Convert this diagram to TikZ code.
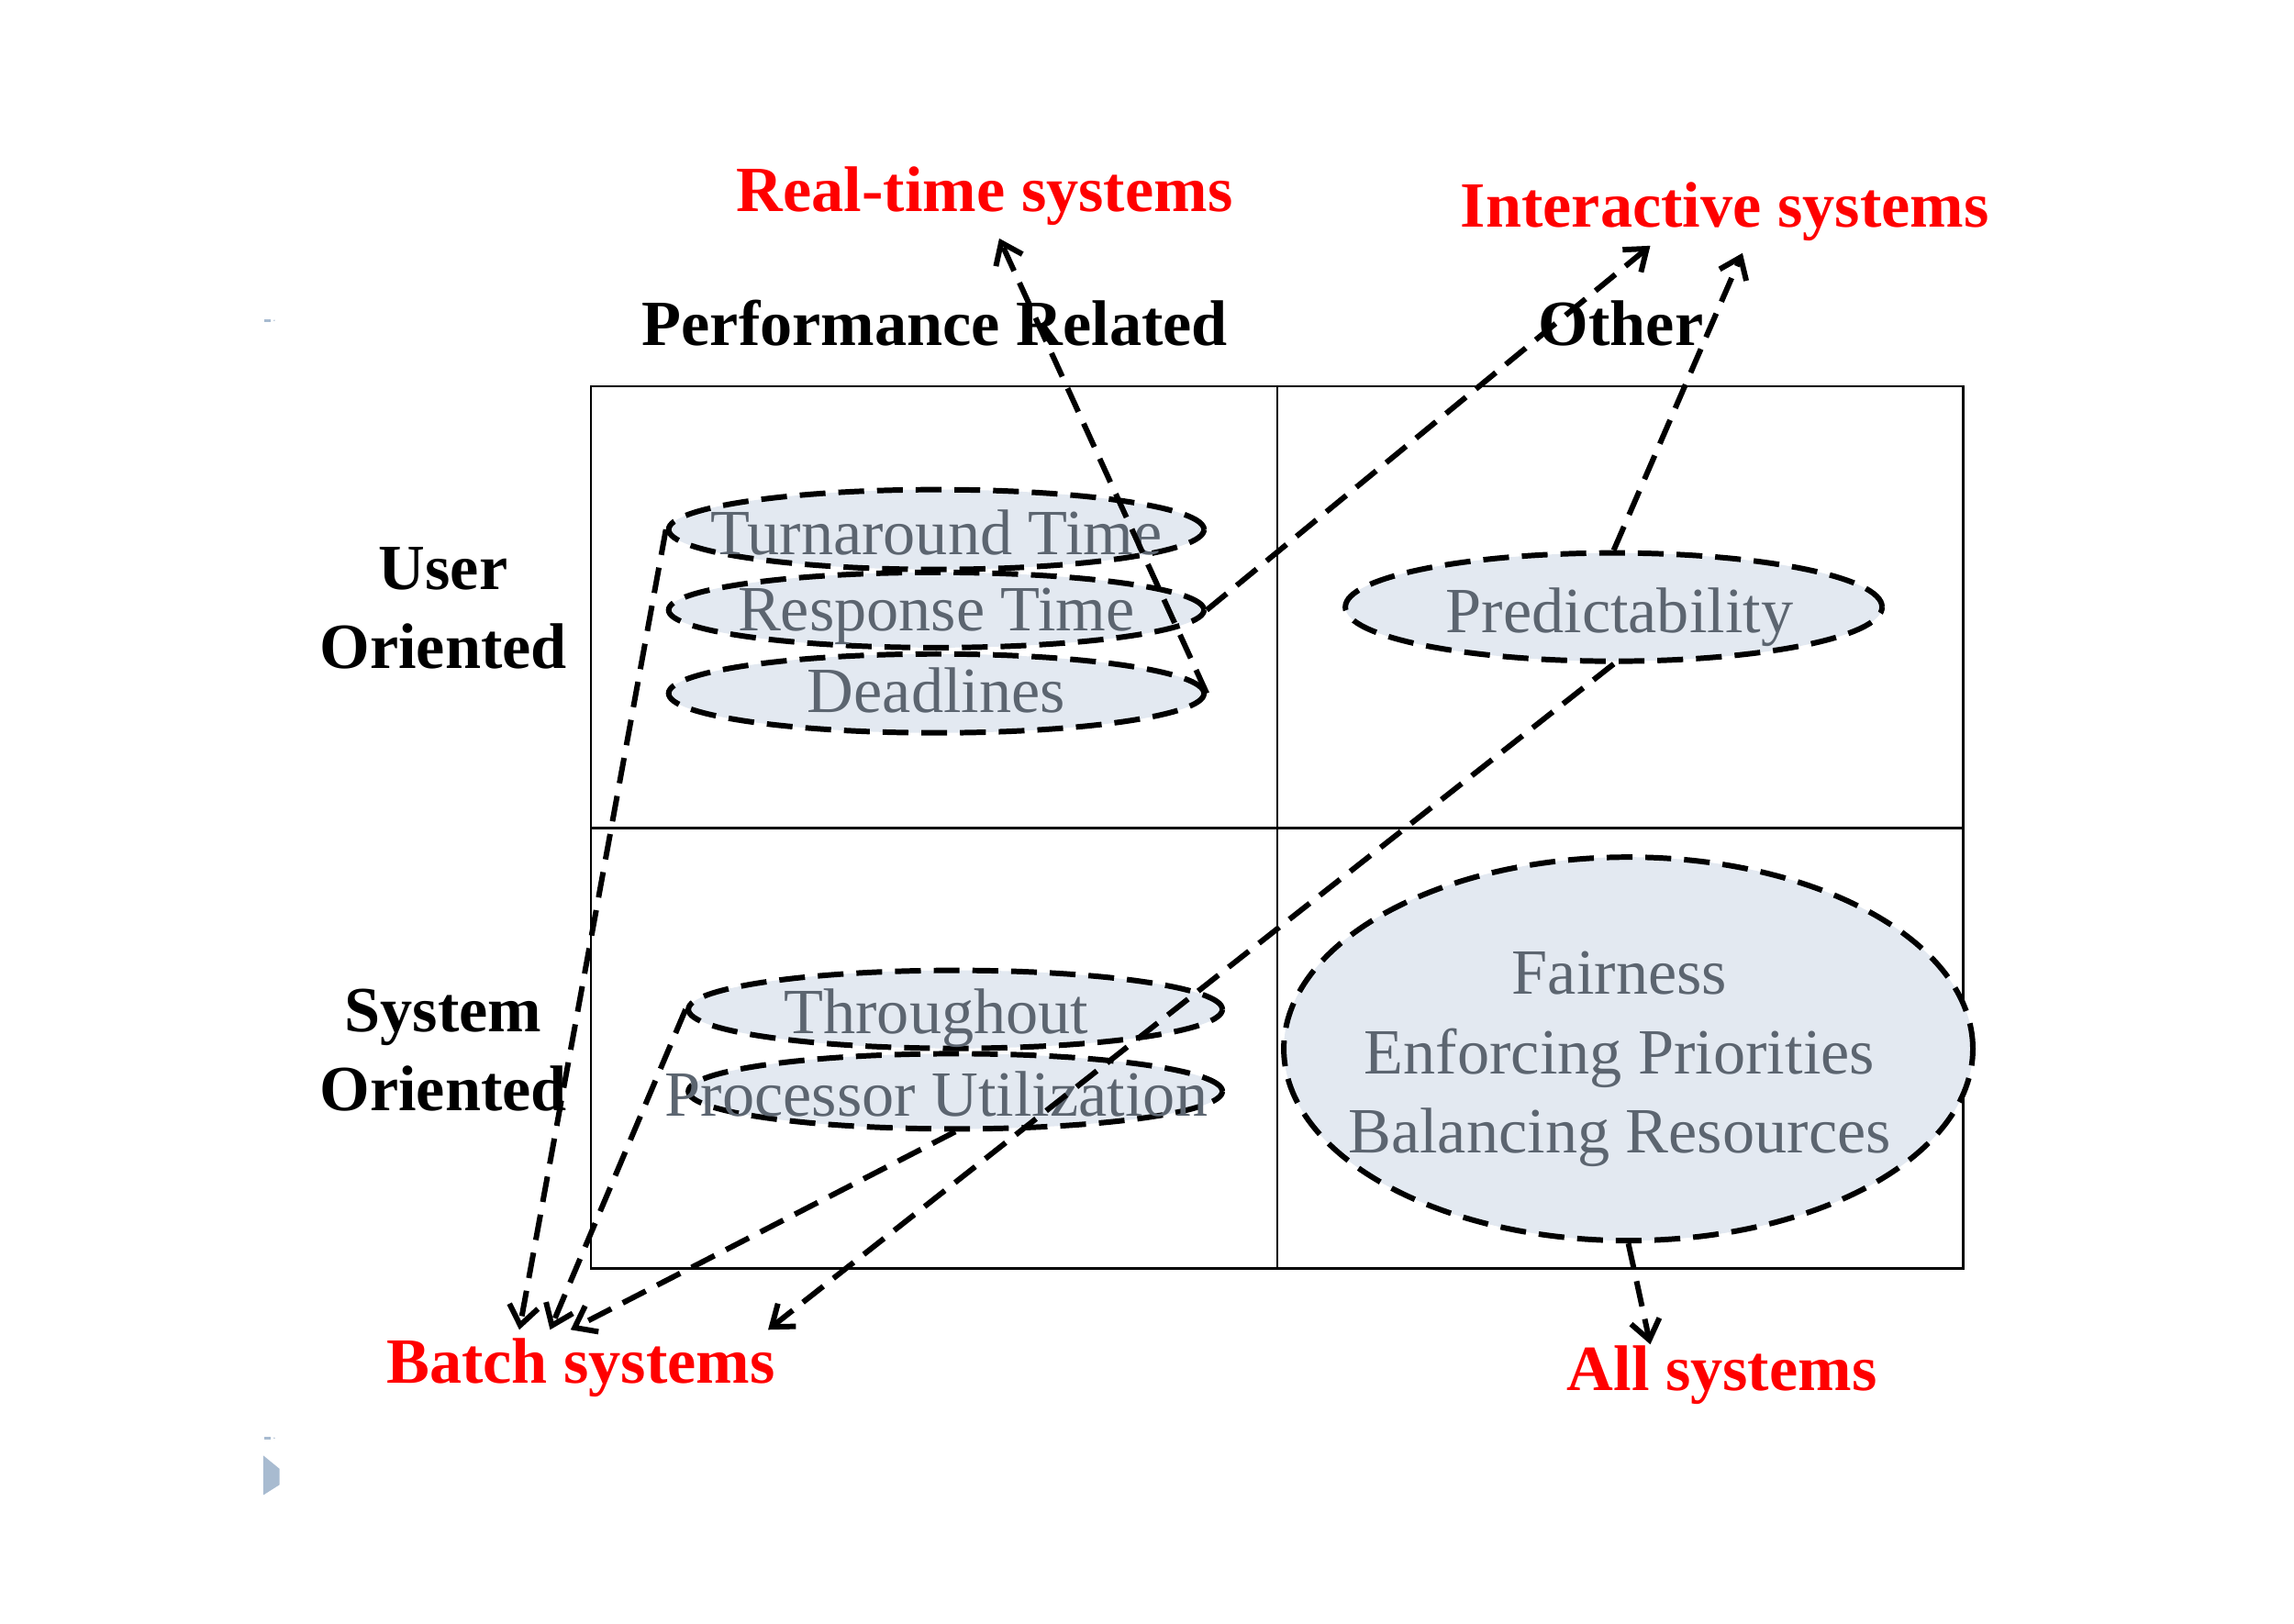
\documentclass[tikz,border=0pt]{standalone}
\usepackage{fontspec}
\setmainfont{Liberation Serif}
\usetikzlibrary{shapes.geometric,arrows.meta}
\definecolor{ellfill}{HTML}{E3E9F1}
\definecolor{elltext}{HTML}{5C6570}
\definecolor{redlab}{HTML}{FF0000}
\definecolor{artgray}{HTML}{A8BBD0}
\begin{document}
\begin{tikzpicture}[x=0.015944cm,y=-0.015944cm,
  ell/.style={ellipse,draw=black,fill=ellfill,line width=1.7pt,dash pattern=on 8pt off 4pt,inner sep=0pt},
  etext/.style={text=elltext,font=\fontsize{20}{24.5}\selectfont,align=center,inner sep=0pt},
  head/.style={font=\fontsize{20}{24.5}\selectfont\bfseries,align=center,inner sep=0pt},
  redl/.style={text=redlab,font=\fontsize{20}{24.5}\selectfont\bfseries,inner sep=0pt},
  conn/.style={line width=1.7pt,dash pattern=on 8pt off 4pt,-{Straight Barb[length=6pt,width=9pt,line width=1.7pt]}},
  grid/.style={line width=0.7pt}]
\useasboundingbox (0,0) rectangle (1568,1110);
% grid
\draw[grid] (404,264) rectangle (1342,867);
\draw[grid] (873,264) -- (873,867);
\draw[grid] (404,566) -- (1342,566);
% headers
\node[head] (hperf) at (639,221) {Performance Related};
\node[head] (hother) at (1108,221) {Other};
\node[head] (huser) at (303,416) {User\\Oriented};
\node[head] (hsys) at (303,718) {System\\Oriented};
% red labels
\node[redl] (lrt) at (673,134) {Real-time systems};
\node[redl] (lint) at (1179,145) {Interactive systems};
\node[redl] (lbatch) at (397,935) {Batch systems};
\node[redl] (lall) at (1177,940) {All systems};
% ellipses
\node[ell,minimum width=5.835cm,minimum height=0.87cm] (ta) at (640,362) {};
\node[ell,minimum width=5.835cm,minimum height=0.82cm] (rs) at (640,417) {};
\node[ell,minimum width=5.835cm,minimum height=0.86cm] (dl) at (640,474) {};
\node[ell,minimum width=5.85cm,minimum height=1.18cm] (pr) at (1103,415) {};
\node[ell,minimum width=5.82cm,minimum height=0.85cm] (th) at (653,690) {};
\node[ell,minimum width=5.82cm,minimum height=0.82cm] (pu) at (653,746) {};
\node[ell,minimum width=7.51cm,minimum height=4.18cm] (big) at (1113,717) {};
% ellipse texts
\node[etext] (tta) at (640,364) {Turnaround Time};
\node[etext] (trs) at (640,421) {Response Time};
\node[etext] (tdl) at (640,472) {Deadlines};
\node[etext] (tpr) at (1107,422) {Predictability};
\node[etext] (tth) at (640,696) {Throughout};
\node[etext] (tpu) at (640,748) {Processor Utilization};
\node[etext] (tbig) at (1107,724) {Fairness\\Enforcing Priorities\\Balancing Resources};
% arrow tips
\coordinate (crt) at (683,163);
\coordinate (cint1) at (1128,168);
\coordinate (cint2) at (1191,173);
\coordinate (cb1) at (355,909);
\coordinate (cb2) at (376,909);
\coordinate (cb3) at (390,909);
\coordinate (cb4) at (525,909);
\coordinate (call) at (1128,919);
% connectors
\draw[conn] (dl.east) -- (crt);
\draw[conn] (rs.east) -- (cint1);
\draw[conn] (pr.north) -- (cint2);
\draw[conn] (ta.west) -- (cb1);
\draw[conn] (th.west) -- (cb2);
\draw[conn] (pu.south) -- (cb3);
\draw[conn] (pr.south) -- (cb4);
\draw[conn] (big.south) -- (call);
% slide artifacts
\draw[artgray,line width=0.8pt] (180.6,219) -- (185,219);
\fill[artgray] (187.5,219) circle (0.5);
\draw[artgray,line width=0.8pt] (180.6,983) -- (185,983);
\fill[artgray] (187.5,983) circle (0.5);
\fill[artgray] (180,995) -- (191,1004) -- (191,1015) -- (180,1022) -- cycle;
\end{tikzpicture}
\end{document}
